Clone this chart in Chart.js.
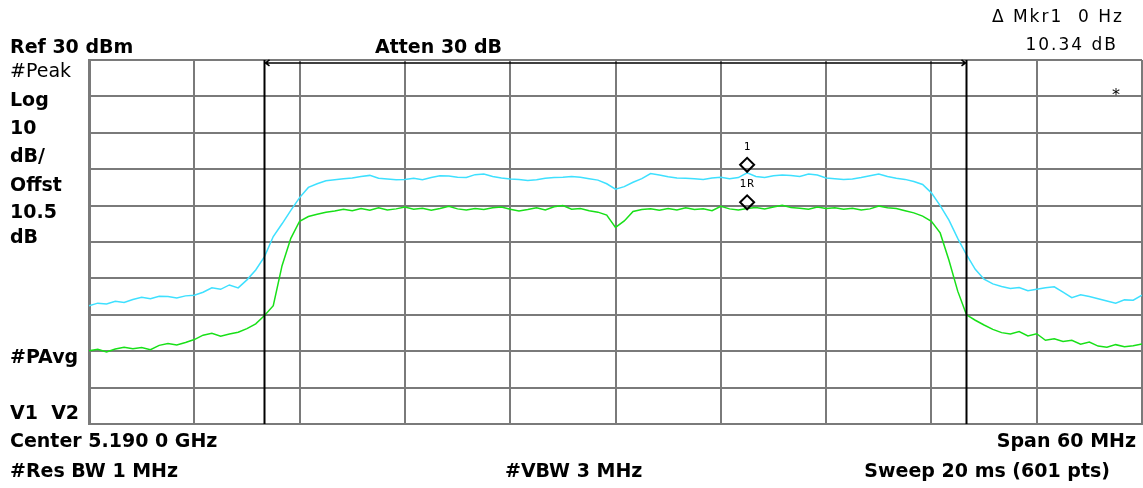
<!DOCTYPE html>
<html lang="en">
<head>
  <meta charset="UTF-8">
  <title>Spectrum 5.190 GHz</title>
  <script src="https://cdn.jsdelivr.net/npm/chart.js"></script>
  <style>
    body { margin: 0; background: #fff; }
    canvas { display: block; }
  </style>
</head>
<body>
  <canvas id="chart" width="1143" height="488"></canvas>

  <script>
    // frequency points, MHz (0.5 MHz step over the 60 MHz span)
    const freqMHz = [];
    for (let i = 0; i <= 120; i++) freqMHz.push(5160 + i * 0.5);

    // cyan trace (#Peak), dBm
    const peakTrace = [
      -37.5, -36.8, -37.0, -36.3, -36.6, -35.8, -35.2, -35.6, -34.9, -35.0,
      -35.4, -34.8, -34.6, -33.8, -32.6, -33.0, -31.8, -32.6, -30.4, -27.7,
      -24.0, -18.5, -15.0, -11.3, -7.8, -5.0, -4.0, -3.2, -2.9, -2.6,
      -2.4, -2.0, -1.7, -2.5, -2.7, -2.9, -2.8, -2.5, -2.9, -2.3,
      -1.8, -1.9, -2.2, -2.3, -1.5, -1.3, -2.0, -2.4, -2.7, -2.8,
      -3.1, -2.9, -2.5, -2.3, -2.2, -2.0, -2.2, -2.6, -3.0, -4.0,
      -5.5, -4.8, -3.6, -2.6, -1.2, -1.6, -2.1, -2.4, -2.5, -2.6,
      -2.8, -2.4, -2.2, -2.6, -2.3, -1.0, -2.0, -2.3, -1.8, -1.6,
      -1.7, -2.0, -1.3, -1.6, -2.4, -2.6, -2.8, -2.7, -2.3, -1.8,
      -1.3, -2.0, -2.5, -2.8, -3.4, -4.2, -6.5, -10.0, -14.0, -19.0,
      -23.5, -27.5, -30.2, -31.5, -32.2, -32.8, -32.5, -33.4, -33.0, -32.6,
      -32.3, -33.8, -35.3, -34.5, -35.0, -35.6, -36.2, -36.8, -35.9, -36.0,
      -34.6
    ];

    // green trace (#PAvg), dBm
    const avgTrace = [
      -49.9, -49.5, -50.2, -49.4, -48.9, -49.3, -49.0, -49.6, -48.4, -47.9,
      -48.3, -47.6, -46.8, -45.6, -45.1, -45.9, -45.3, -44.8, -43.8, -42.5,
      -40.2, -37.5, -26.5, -19.0, -14.3, -13.0, -12.4, -11.8, -11.5, -11.0,
      -11.4, -10.8, -11.3, -10.6, -11.2, -10.9, -10.4, -11.0, -10.7, -11.3,
      -10.8, -10.2, -10.9, -11.2, -10.8, -11.1, -10.6, -10.4, -11.0, -11.5,
      -11.1, -10.6, -11.2, -10.3, -10.0, -11.0, -10.8, -11.4, -11.8, -12.6,
      -16.0, -14.2, -11.6, -11.1, -10.9, -11.3, -10.8, -11.2, -10.6, -11.1,
      -10.9, -11.4, -10.2, -10.9, -11.2, -10.8, -10.5, -10.9, -10.4, -9.9,
      -10.5, -10.7, -11.0, -10.4, -10.8, -10.6, -11.0, -10.7, -11.2, -10.9,
      -10.1, -10.6, -10.8, -11.4, -12.0, -12.9, -14.3, -17.5, -25.0, -33.5,
      -40.0, -41.5, -42.8, -44.0, -44.9, -45.3, -44.6, -45.8, -45.2, -47.0,
      -46.6, -47.3, -47.0, -48.1, -47.5, -48.6, -48.9, -48.2, -48.8, -48.5,
      -48.0
    ];

    // band edge lines and marker
    const bandEdges = [5170, 5210];
    const markerFreq = 5197.5;
    const markerOne = 1.2;
    const markerRef = -9.1;

    const xMin = 5160, xMax = 5220, yMin = -70, yMax = 30;

    const toXY = (ys) => ys.map((y, i) => ({ x: freqMHz[i], y: y }));

    const edgeLine = (f) => ({
      data: [{ x: f, y: yMin }, { x: f, y: yMax }],
      borderColor: '#000', borderWidth: 2, pointRadius: 0, order: 0
    });

    // texts and small arrows drawn on top
    const overlay = {
      id: 'overlay',
      afterDatasetsDraw(chart) {
        const ctx = chart.ctx;
        const xs = chart.scales.x, ys = chart.scales.y;
        ctx.save();

        // arrow line between band edges
        const ay = ys.getPixelForValue(29.2);
        const a1 = xs.getPixelForValue(bandEdges[0]);
        const a2 = xs.getPixelForValue(bandEdges[1]);
        ctx.strokeStyle = '#000';
        ctx.lineWidth = 1.5;
        ctx.beginPath();
        ctx.moveTo(a1, ay); ctx.lineTo(a2, ay);
        ctx.moveTo(a1 + 5, ay - 3); ctx.lineTo(a1 + 1, ay); ctx.lineTo(a1 + 5, ay + 3);
        ctx.moveTo(a2 - 5, ay - 3); ctx.lineTo(a2 - 1, ay); ctx.lineTo(a2 - 5, ay + 3);
        ctx.stroke();

        ctx.fillStyle = '#000';
        ctx.textBaseline = 'alphabetic';
        const bold = 'bold 19px "DejaVu Sans"';
        const norm = '19px "DejaVu Sans"';
        const put = (t, x, y, font, align, spacing) => {
          ctx.font = font;
          ctx.textAlign = align || 'left';
          ctx.letterSpacing = spacing || '0px';
          ctx.fillText(t, x, y);
        };

        put('Ref 30 dBm', 10, 53, bold);
        put('Atten 30 dB', 375, 53, bold);
        put('\u0394 Mkr1  0 Hz', 1124, 22, '17px "DejaVu Sans"', 'right', '2px');
        put('10.34 dB', 1118, 50, '17px "DejaVu Sans"', 'right', '2px');
        put('#Peak', 10, 77, norm);
        put('Log', 10, 106, bold);
        put('10', 10, 134, bold);
        put('dB/', 10, 162, bold);
        put('Offst', 10, 191, bold);
        put('10.5', 10, 218, bold);
        put('dB', 10, 243, bold);
        put('#PAvg', 10, 363, bold);
        put('V1  V2', 10, 419, bold);
        put('Center 5.190 0 GHz', 10, 447, bold);
        put('#Res BW 1 MHz', 10, 477, bold);
        put('#VBW 3 MHz', 505, 477, bold);
        put('Span 60 MHz', 1136, 447, bold, 'right');
        put('Sweep 20 ms (601 pts)', 1110, 477, bold, 'right');
        put('*', 1116, 100, '16px "DejaVu Sans"', 'center');

        // marker labels
        const mx = xs.getPixelForValue(markerFreq);
        put('1', mx, 150, '11px "DejaVu Sans Mono"', 'center');
        put('1R', mx, 187, '11px "DejaVu Sans Mono"', 'center', '1px');
        ctx.restore();
      }
    };

    new Chart(document.getElementById('chart').getContext('2d'), {
      type: 'line',
      data: {
        datasets: [
          edgeLine(bandEdges[0]),
          edgeLine(bandEdges[1]),
          {
            data: [{ x: markerFreq, y: markerOne }, { x: markerFreq, y: markerRef }],
            showLine: false,
            pointStyle: 'rectRot',
            pointRadius: 7,
            pointBorderWidth: 2,
            pointBorderColor: '#000',
            pointBackgroundColor: 'rgba(255,255,255,0)',
            order: 0
          },
          {
            data: toXY(peakTrace),
            borderColor: '#3ee0ff',
            borderWidth: 1.5,
            pointRadius: 0,
            order: 2
          },
          {
            data: toXY(avgTrace),
            borderColor: '#18e018',
            borderWidth: 1.5,
            pointRadius: 0,
            order: 1
          }
        ]
      },
      options: {
        responsive: false,
        animation: false,
        layout: { autoPadding: false, padding: { left: 89, top: 60, right: 1, bottom: 64 } },
        scales: {
          x: {
            type: 'linear', min: xMin, max: xMax,
            ticks: { display: false, stepSize: 6 },
            grid: { color: '#7a7a7a', lineWidth: 2, drawTicks: false },
            border: { color: '#7a7a7a', width: 2 }
          },
          y: {
            min: yMin, max: yMax,
            ticks: { display: false, stepSize: 10 },
            grid: { color: '#7a7a7a', lineWidth: 2, drawTicks: false },
            border: { color: '#7a7a7a', width: 3 }
          }
        },
        plugins: { legend: { display: false }, tooltip: { enabled: false } }
      },
      plugins: [overlay]
    });
  </script>
</body>
</html>
